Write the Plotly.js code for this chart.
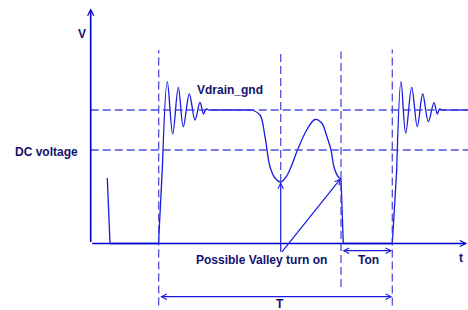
<!DOCTYPE html>
<html>
<head>
<meta charset="utf-8">
<script src="https://cdn.plot.ly/plotly-3.0.1.min.js"></script>
<style>html,body{margin:0;padding:0;background:#fff;}#chart{width:468px;height:310px;}</style>
</head>
<body>
<div id="chart"></div>
<script>
// ---- Data (time t, voltage V; origin at the axes corner) ----
// Initial residual spike and off-state
const startT = [16.6, 19.3, 67.8, 71.8];
const startV = [65.5, 0, 0, 78.5];
// First turn-off ringing
const ring1T = [71.8, 76.6, 82.0, 87.6, 92.6, 98.6, 104.3, 109.3, 112.8, 115.3, 117.8];
const ring1V = [78.5, 161.8, 109.5, 156.2, 116.8, 149.5, 123.5, 141.0, 129.5, 134.5, 133.5];
// Plateau at Vdrain level
const plateauT = [117.8, 161.3];
const plateauV = [133.5, 133.5];
// Resonant valley after demagnetisation
const valleyT = [161.3, 169.3, 174.3, 179.3, 184.3, 190.0, 195.3, 200.3, 206.8, 216.0, 224.3, 231.0, 236.0, 240.3, 243.3, 247.3, 250.3];
const valleyV = [133.5, 128.5, 106.8, 76.8, 65.5, 61.5, 66.5, 76.5, 93.5, 113.5, 124.0, 120.5, 107.5, 93.5, 76.5, 67.0, 64.5];
// Turn-on (Ton) interval
const onT = [250.3, 252.6, 301.6, 306.0];
const onV = [64.5, 0, 0, 73.5];
// Second turn-off ringing
const ring2T = [306.0, 310.3, 315.0, 321.0, 326.6, 332.0, 337.6, 343.3, 346.6, 348.8, 351.0];
const ring2V = [73.5, 161.8, 110.2, 156.2, 116.8, 149.5, 121.8, 140.8, 129.5, 134.5, 133.5];
// Final plateau
const tailT = [351.0, 377.3];
const tailV = [133.5, 133.5];

// Reference levels and event times
const vDrainLevel = 133.5;
const dcLevel = 93.5;
const tEdgeOff1 = 68.0;    // first rising edge (start of period T)
const tValley = 190.0;     // valley minimum
const tEdgeOn = 250.3;     // turn-on (start of Ton)
const tEdgeOff2 = 301.6;   // end of Ton / end of period T
const tAxisEnd = 376.5;
const vAxisEnd = 235.2;

const labels = {
  v: "V", t: "t", vdrain: "Vdrain_gnd", dc: "DC voltage",
  valley: "Possible Valley turn on", ton: "Ton", period: "T"
};

// ---- Styles ----
const waveColor = "rgb(25,25,225)";
const axisColor = "rgb(0,0,205)";
const dashColor = "rgba(60,60,215,0.9)";
const textColor = "#12126e";
const font = {family: "Liberation Sans, Arial, sans-serif", size: 12, color: textColor, weight: 700};

const segs = [
  [startT, startV, "linear"], [ring1T, ring1V, "spline"], [plateauT, plateauV, "linear"],
  [valleyT, valleyV, "spline"], [onT, onV, "linear"], [ring2T, ring2V, "spline"], [tailT, tailV, "linear"]
];
const traces = segs.map(s => ({
  x: s[0], y: s[1], type: "scatter", mode: "lines", hoverinfo: "skip",
  line: {color: waveColor, width: 1.3, shape: s[2], smoothing: 1}
}));

const dash = "8px,4px";
const shapes = [
  {type: "line", xref: "x", yref: "y", x0: 0, x1: 377.3, y0: vDrainLevel, y1: vDrainLevel, line: {color: dashColor, width: 1.3, dash: dash}},
  {type: "line", xref: "x", yref: "y", x0: 0, x1: 377.3, y0: dcLevel, y1: dcLevel, line: {color: dashColor, width: 1.3, dash: dash}},
  {type: "line", xref: "x", yref: "y", x0: tEdgeOff1, x1: tEdgeOff1, y0: -62, y1: 193.5, line: {color: dashColor, width: 1.3, dash: dash}},
  {type: "line", xref: "x", yref: "y", x0: tValley, x1: tValley, y0: 61.5, y1: 193.5, line: {color: dashColor, width: 1.3, dash: dash}},
  {type: "line", xref: "x", yref: "y", x0: tEdgeOn, x1: tEdgeOn, y0: -43.5, y1: 192, line: {color: dashColor, width: 1.3, dash: dash}},
  {type: "line", xref: "x", yref: "y", x0: tEdgeOff2, x1: tEdgeOff2, y0: -62, y1: 194, line: {color: dashColor, width: 1.3, dash: dash}}
];

function arrow(x, y, ax, ay, opts) {
  return Object.assign({
    x: x, y: y, ax: ax, ay: ay, xref: "x", yref: "y", axref: "x", ayref: "y",
    text: "", showarrow: true, arrowhead: 5, arrowsize: 0.9, arrowwidth: 1.2,
    arrowcolor: waveColor, standoff: 0, startstandoff: 0
  }, opts || {});
}
function label(x, y, text) {
  return {x: x, y: y, xref: "x", yref: "y", text: text, showarrow: false, font: font, xanchor: "center", yanchor: "middle"};
}

const annotations = [
  arrow(0, vAxisEnd, 0, 0, {arrowcolor: axisColor, arrowwidth: 1.6, arrowsize: 0.75}),
  arrow(tAxisEnd, 0, 0, 0, {arrowcolor: axisColor, arrowwidth: 1.6, arrowsize: 0.75}),
  arrow(tValley, 61.5, tValley, -9.8),
  arrow(tEdgeOn, 65.2, tValley, -9.8),
  arrow(tEdgeOff2, -7.2, tEdgeOn, -7.2, {arrowside: "end+start", startarrowhead: 5, startarrowsize: 0.9}),
  arrow(tEdgeOff2, -53.2, tEdgeOff1, -53.2, {arrowside: "end+start", startarrowhead: 5, startarrowsize: 0.9}),
  label(-9.2, 209.5, labels.v),
  label(139.3, 153.5, labels.vdrain),
  label(-44.7, 91.5, labels.dc),
  label(170.3, -16, labels.valley),
  label(277.6, -16.5, labels.ton),
  label(370.3, -14.8, labels.t),
  label(189.3, -60.3, labels.period)
];

const layout = {
  width: 468, height: 310,
  margin: {l: 0, r: 0, t: 0, b: 0, pad: 0},
  paper_bgcolor: "#ffffff", plot_bgcolor: "#ffffff",
  showlegend: false,
  xaxis: {range: [-90.7, 377.3], visible: false, fixedrange: true},
  yaxis: {range: [-66.5, 243.5], visible: false, fixedrange: true},
  shapes: shapes,
  annotations: annotations
};

Plotly.newPlot("chart", traces, layout, {displayModeBar: false, staticPlot: true});
</script>
</body>
</html>
